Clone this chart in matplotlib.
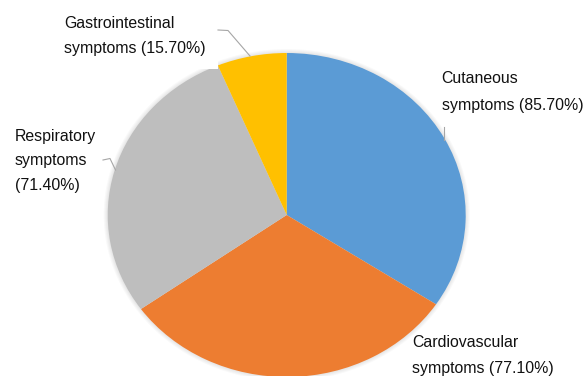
import matplotlib
matplotlib.use("Agg")
import matplotlib.pyplot as plt
from matplotlib.patches import Ellipse, Rectangle
from matplotlib.lines import Line2D

# Share of patients presenting each symptom group (%)
categories = ["Cutaneous", "Cardiovascular", "Respiratory", "Gastrointestinal"]
values = [85.7, 77.1, 71.4, 15.7]
colors = ["#5B9BD5", "#ED7D31", "#BEBEBE", "#FFC000"]

W, H = 584, 376
fig = plt.figure(figsize=(W / 100, H / 100), dpi=100)
ax = fig.add_axes([0, 0, 1, 1])

# pie geometry in pixels (slightly wider than tall)
cx, cy = 286.7, 215.0
rx, ry = 179.0, 162.0

# faint soft shadow around the pie
for k in range(1, 5):
    ax.add_patch(Ellipse((0, 0), 2 * (1 + k / rx), 2 * (1 + k / ry),
                         facecolor="#000000", edgecolor="none",
                         alpha=0.022, zorder=0))

ax.pie(values, colors=colors, startangle=90, counterclock=False,
       radius=1.0, center=(0, 0),
       wedgeprops=dict(linewidth=0, edgecolor="none", zorder=1))
ax.set_aspect("auto")
ax.set_xlim(-cx / rx, (W - cx) / rx)
ax.set_ylim(-(H - cy) / ry, cy / ry)
ax.axis("off")


def fx(x):
    return x / W


def fy(y):
    return 1 - y / H


# white label box over the top-left part of the pie
fig.add_artist(Rectangle((fx(55), fy(68.5)), fx(217.5) - fx(55), fy(5) - fy(68.5),
                         transform=fig.transFigure, facecolor="white",
                         edgecolor="none", zorder=3))

font = dict(family=["Liberation Sans", "DejaVu Sans"], fontsize=11.4,
            color="#111111", zorder=4)

labels = [
    (["Gastrointestinal", f"symptoms ({values[3]:.2f}%)"], 64, 28.3, 25.0),
    (["Cutaneous", f"symptoms ({values[0]:.2f}%)"], 441.5, 83.3, 26.7),
    (["Respiratory", "symptoms", f"({values[2]:.2f}%)"], 14.5, 140.5, 24.8),
    (["Cardiovascular", f"symptoms ({values[1]:.2f}%)"], 412.5, 346.8, 26.7),
]
for lines, x, y0, step in labels:
    for i, s in enumerate(lines):
        fig.text(fx(x), fy(y0 + i * step), s, ha="left", va="baseline", **font)

# leader lines
leaders = [
    [(218, 30), (228, 30.5), (250, 56)],
    [(444, 127), (444, 140)],
    [(103, 160), (110, 158.5), (115.5, 170)],
]
for pts in leaders:
    xs = [fx(p[0]) for p in pts]
    ys = [fy(p[1]) for p in pts]
    fig.add_artist(Line2D(xs, ys, transform=fig.transFigure, color="#A6A6A6",
                          linewidth=0.8, zorder=4))

fig.savefig("out.png", dpi=100, facecolor="white")
